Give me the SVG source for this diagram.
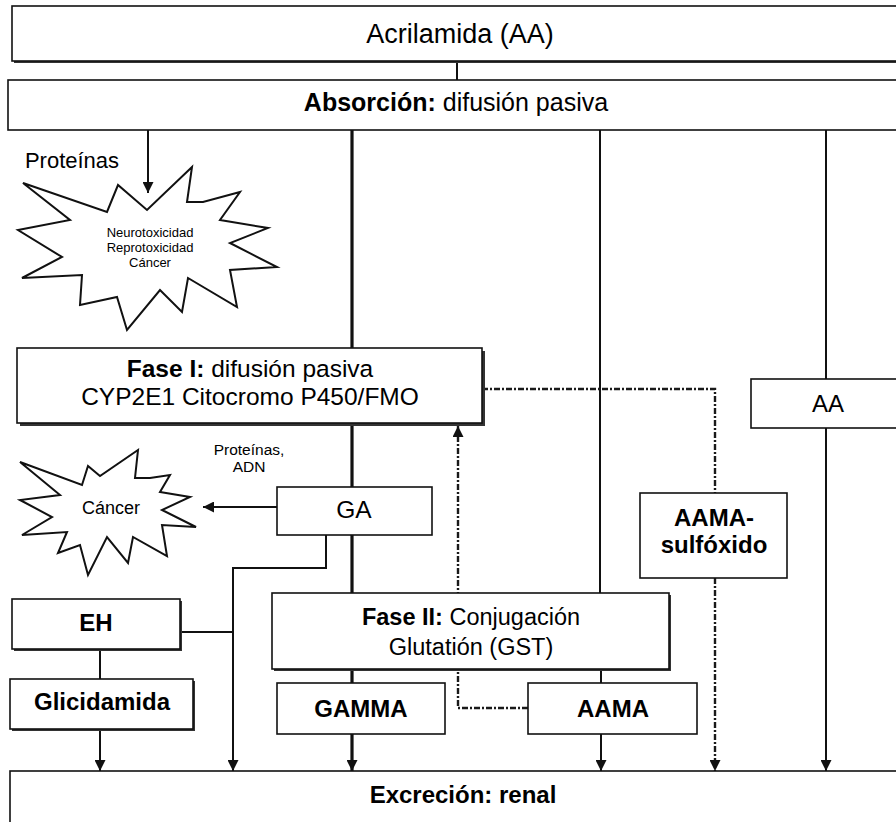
<svg xmlns="http://www.w3.org/2000/svg" width="896" height="822" viewBox="0 0 896 822">
  <style>
    .box { fill: #fff; stroke: #111; stroke-width: 1.6; }
    .shadow { fill: #333; }
    .star { fill: #fff; stroke: #111; stroke-width: 2; stroke-linejoin: miter; }
    .t { font-family: "Liberation Sans", Arial, sans-serif; fill: #000; text-anchor: middle; }
    .b { font-weight: bold; }
    .ln { fill: none; stroke: #111; stroke-width: 2; }
    .thick { fill: none; stroke: #111; stroke-width: 3.2; }
    .dd { fill: none; stroke: #1a1a1a; stroke-width: 2.4; stroke-dasharray: 6 2 2 2; }
  </style>
  <defs>
    <marker id="arr" viewBox="0 0 10 10" refX="10" refY="5" markerWidth="11" markerHeight="11" markerUnits="userSpaceOnUse" orient="auto">
      <path d="M0,0 L10,5 L0,10 z" fill="#111"/>
    </marker>
  </defs>

  <rect width="896" height="822" fill="#fff"/>

  <!-- connectors -->
  <g id="connectors">
    <line class="ln" x1="457" y1="61" x2="457" y2="80"/>
    <line class="ln" x1="148" y1="130" x2="148" y2="193" marker-end="url(#arr)"/>
    <line class="thick" x1="352" y1="130" x2="352" y2="348"/>
    <line class="ln" x1="600" y1="130" x2="600" y2="593"/>
    <line class="ln" x1="826" y1="130" x2="826" y2="379"/>
    <line class="ln" x1="826" y1="428" x2="826" y2="771" marker-end="url(#arr)"/>
    <line class="thick" x1="352" y1="423" x2="352" y2="487"/>
    <line class="ln" x1="277" y1="507" x2="203" y2="507" marker-end="url(#arr)"/>
    <line class="thick" x1="352" y1="535" x2="352" y2="593"/>
    <polyline class="ln" points="326,535 326,568 233,568 233,771" marker-end="url(#arr)"/>
    <line class="ln" x1="180" y1="632" x2="233" y2="632"/>
    <line class="ln" x1="100" y1="649" x2="100" y2="679"/>
    <line class="ln" x1="100" y1="729" x2="100" y2="771" marker-end="url(#arr)"/>
    <line class="thick" x1="352" y1="669" x2="352" y2="683"/>
    <line class="thick" x1="352" y1="734" x2="352" y2="771" marker-end="url(#arr)"/>
    <line class="ln" x1="601" y1="669" x2="601" y2="683"/>
    <line class="ln" x1="601" y1="734" x2="601" y2="771" marker-end="url(#arr)"/>
    <polyline class="dd" points="482,389 715,389 715,493"/>
    <polyline class="dd" points="528,708 458,708 458,426" marker-end="url(#arr)"/>
    <line class="dd" x1="715" y1="578" x2="715" y2="771" marker-end="url(#arr)"/>
  </g>

  <!-- top: acrylamide -->
  <g id="acrilamida">
    <rect class="shadow" x="14" y="8" width="890" height="55"/>
    <rect class="box" x="12" y="6" width="890" height="55"/>
    <text class="t" x="460" y="43" font-size="27">Acrilamida (AA)</text>
  </g>

  <g id="absorcion">
    <rect class="box" x="8" y="80" width="900" height="50"/>
    <text class="t" x="456" y="111" font-size="25"><tspan class="b">Absorción:</tspan> difusión pasiva</text>
  </g>

  <g id="proteinas-label">
    <text class="t" x="72" y="168" font-size="22">Proteínas</text>
  </g>

  <g id="efectos">
    <polygon class="star" points="23,183 107,212 118,185 147,210 192,167 187,202 203,202 240,192 220,220 268,228 230,243 277,267 230,270 237,307 188,278 182,312 160,290 127,330 117,297 80,305 82,275 22,278 62,257 18,230 70,220"/>
    <text class="t" x="150" y="237" font-size="13">Neurotoxicidad</text>
    <text class="t" x="150" y="252" font-size="13">Reprotoxicidad</text>
    <text class="t" x="150" y="267" font-size="13">Cáncer</text>
  </g>

  <g id="fase1">
    <rect class="shadow" x="20" y="351" width="465" height="75"/>
    <rect class="box" x="17" y="348" width="465" height="75"/>
    <text class="t" x="250" y="377" font-size="24.5"><tspan class="b">Fase I:</tspan> difusión pasiva</text>
    <text class="t" x="250" y="405" font-size="24.5">CYP2E1 Citocromo P450/FMO</text>
  </g>

  <g id="aa">
    <rect class="box" x="751" y="379" width="150" height="49"/>
    <text class="t" x="828" y="412" font-size="24">AA</text>
  </g>

  <g id="proteinas-adn-label">
    <text class="t" x="249" y="455" font-size="15.5">Proteínas,</text>
    <text class="t" x="249" y="472" font-size="15.5">ADN</text>
  </g>

  <g id="cancer">
    <polygon class="star" points="20,462 82,485 88,466 100,476 138,450 135,478 150,478 170,475 160,492 190,497 162,510 196,527 162,525 167,556 133,537 128,563 107,537 88,575 80,545 58,553 67,532 22,535 52,517 20,500 60,495"/>
    <text class="t" x="111" y="514" font-size="18">Cáncer</text>
  </g>

  <g id="ga">
    <rect class="box" x="277" y="487" width="155" height="48"/>
    <text class="t" x="354" y="518" font-size="24.5">GA</text>
  </g>

  <g id="aama-sulfoxido">
    <rect class="box" x="640" y="493" width="147" height="85"/>
    <text class="t b" x="714" y="526" font-size="24">AAMA-</text>
    <text class="t b" x="714" y="553" font-size="24">sulfóxido</text>
  </g>

  <g id="eh">
    <rect class="shadow" x="14" y="601" width="168" height="50"/>
    <rect class="box" x="12" y="599" width="168" height="50"/>
    <text class="t b" x="96" y="631" font-size="24">EH</text>
  </g>

  <g id="fase2">
    <rect class="shadow" x="274" y="595" width="397" height="76"/>
    <rect class="box" x="272" y="593" width="397" height="76"/>
    <text class="t" x="471" y="625" font-size="23.5"><tspan class="b">Fase II:</tspan> Conjugación</text>
    <text class="t" x="471" y="655" font-size="23.5">Glutatión (GST)</text>
  </g>

  <g id="glicidamida">
    <rect class="shadow" x="12" y="681" width="183" height="50"/>
    <rect class="box" x="10" y="679" width="183" height="50"/>
    <text class="t b" x="102" y="710" font-size="24">Glicidamida</text>
  </g>

  <g id="gamma">
    <rect class="box" x="277" y="683" width="168" height="51"/>
    <text class="t b" x="361" y="717" font-size="24">GAMMA</text>
  </g>

  <g id="aama">
    <rect class="box" x="528" y="683" width="169" height="51"/>
    <text class="t b" x="613" y="717" font-size="24">AAMA</text>
  </g>

  <g id="excrecion">
    <rect class="box" x="10" y="771" width="900" height="60"/>
    <text class="t b" x="463" y="803" font-size="24">Excreción: renal</text>
  </g>
</svg>
